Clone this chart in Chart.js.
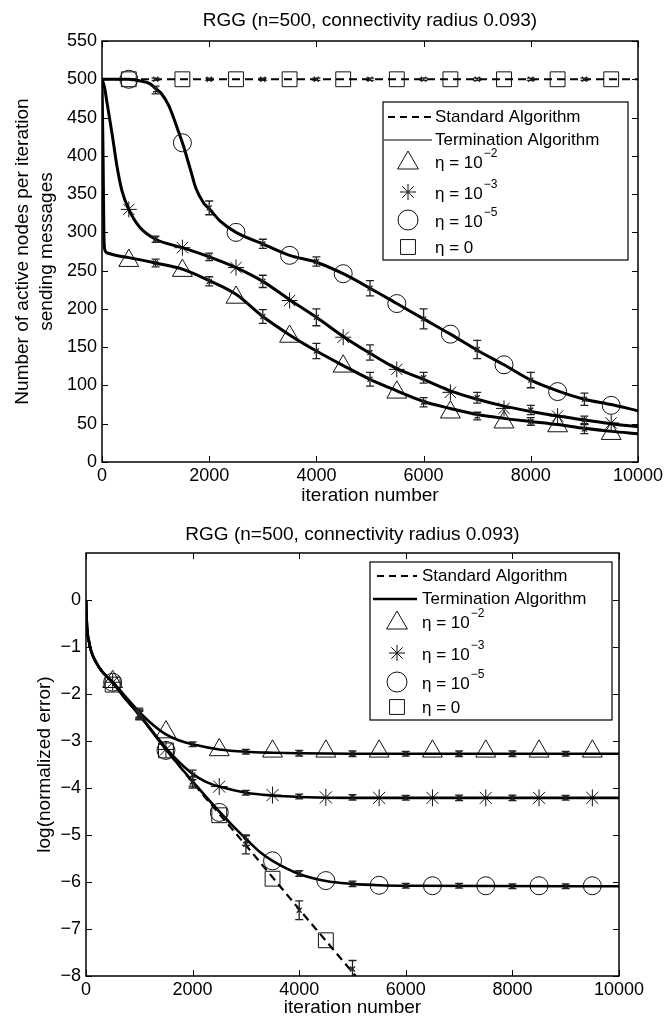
<!DOCTYPE html>
<html>
<head>
<meta charset="utf-8">
<script src="https://cdn.jsdelivr.net/npm/chart.js@4.4.1/dist/chart.umd.min.js"></script>
<style>
  html, body { margin: 0; padding: 0; background: #fff; }
  #wrap { position: relative; width: 667px; height: 1020px; }
  canvas { position: absolute; left: 0; }
</style>
</head>
<body>
<div id="wrap">
  <canvas id="active-chart" width="667" height="510" style="top:0"></canvas>
  <canvas id="error-chart" width="667" height="510" style="top:510px"></canvas>
</div>
<script>
// RGG (n=500, r=0.093) - active nodes and normalized error vs iteration

// shared axis data
const xTicks = [0, 2000, 4000, 6000, 8000, 10000];
const activeTicks = [0, 50, 100, 150, 200, 250, 300, 350, 400, 450, 500, 550];
const errorTicks = [-8, -7, -6, -5, -4, -3, -2, -1, 0];
const markerIters = [500, 1500, 2500, 3500, 4500, 5500, 6500, 7500, 8500, 9500];
const barIters = [1000, 2000, 3000, 4000, 5000, 6000, 7000, 8000, 9000];

const chartTitle = 'RGG (n=500, connectivity radius 0.093)';
const legendNames = ['Standard Algorithm', 'Termination Algorithm'];
const etaExponents = ['\u22122', '\u22123', '\u22125'];

// top chart: active nodes per iteration  [iteration, nodes]
const activeStd = [[0, 500], [10000, 500]];
const activeEta2 = [[0, 500], [20, 400], [35, 300], [50, 278], [100, 273], [250, 270], [500, 267],
  [1000, 260], [1500, 252], [2000, 237], [2500, 219], [3000, 190], [3500, 166], [4000, 145],
  [4500, 126], [5000, 108], [5500, 93], [6000, 79], [6500, 70], [7000, 62], [7500, 57],
  [8000, 53], [8500, 49], [9000, 44], [9500, 40], [10000, 37]];
const activeEta3 = [[0, 500], [45, 490], [90, 471], [190, 428], [280, 386], [370, 355], [500, 330],
  [700, 307], [1000, 291], [1500, 280], [2000, 268], [2500, 254], [3000, 236], [3500, 212],
  [4000, 189], [4500, 164], [5000, 142], [5500, 122], [6000, 108], [6500, 93], [7000, 82],
  [7500, 73], [8000, 66], [8500, 60], [9000, 55], [9500, 50], [10000, 46]];
const activeEta5 = [[0, 500], [500, 500], [700, 498], [900, 494], [1000, 488], [1100, 482],
  [1250, 465], [1400, 437], [1500, 417], [1650, 382], [1750, 358], [1900, 338], [2000, 331],
  [2200, 315], [2500, 300], [3000, 285], [3500, 270], [4000, 261], [4500, 246], [5000, 227],
  [5500, 207], [6000, 187], [6500, 167], [7000, 146], [7500, 127], [8000, 107], [8500, 93],
  [9000, 82], [9500, 75], [10000, 67]];

const activeTriMarks = [263, 250, 215, 164, 125, 91, 65, 52, 47, 37];
const activeStarMarks = [330, 280, 254, 211, 163, 121, 91, 70, 60, 51];
const activeCircleMarks = [500, 417, 300, 270, 246, 207, 167, 127, 92, 74];
const activeSquareMarks = [500, 500, 500, 500, 500, 500, 500, 500, 500, 500];

const activeStdBar = [500, 500, 500, 500, 500, 500, 500, 500, 500];
const activeStdErr = [1.5, 1.5, 1.5, 1.5, 1.5, 1.5, 1.5, 1.5, 1.5];
const activeEta2Bar = [260, 236, 190, 145, 108, 78, 60, 53, 43];
const activeEta2Err = [5, 6, 9, 10, 9, 6, 5, 5, 6];
const activeEta3Bar = [291, 268, 236, 189, 143, 110, 84, 68, 55];
const activeEta3Err = [4, 5, 8, 11, 10, 7, 7, 6, 5];
const activeEta5Bar = [486, 332, 285, 262, 227, 187, 147, 107, 82];
const activeEta5Err = [5, 9, 6, 6, 10, 13, 12, 10, 8];

// bottom chart: log(normalized error)  [iteration, value]
const errorStd = [[0, 0], [20, -0.6], [50, -0.85], [100, -1.1], [200, -1.35], [300, -1.52],
  [500, -1.76], [700, -2.05], [1000, -2.45], [1500, -3.18], [2000, -3.88], [2500, -4.55],
  [3000, -5.22], [3500, -5.9], [4000, -6.58], [4500, -7.25], [5000, -7.92], [5060, -8]];
const errorEta2 = [[0, 0], [20, -0.6], [50, -0.85], [100, -1.1], [200, -1.35], [300, -1.52],
  [500, -1.74], [700, -2.0], [1000, -2.38], [1200, -2.6], [1500, -2.86], [1750, -2.99],
  [2000, -3.07], [2500, -3.18], [3000, -3.23], [3500, -3.25], [4000, -3.26], [5000, -3.27],
  [10000, -3.27]];
const errorEta3 = [[0, 0], [20, -0.6], [50, -0.85], [100, -1.1], [200, -1.35], [300, -1.52],
  [500, -1.75], [700, -2.03], [1000, -2.44], [1500, -3.15], [1750, -3.45], [2000, -3.7],
  [2250, -3.87], [2500, -3.97], [3000, -4.1], [3500, -4.16], [4000, -4.19], [5000, -4.21],
  [10000, -4.21]];
const errorEta5 = [[0, 0], [20, -0.6], [50, -0.85], [100, -1.1], [200, -1.35], [300, -1.52],
  [500, -1.76], [700, -2.05], [1000, -2.45], [1500, -3.18], [2000, -3.86], [2500, -4.5],
  [2750, -4.8], [3000, -5.08], [3250, -5.35], [3500, -5.55], [4000, -5.83], [4500, -5.98],
  [5000, -6.04], [5500, -6.07], [6000, -6.08], [10000, -6.09]];

const errorTriMarks = [-1.74, -2.81, -3.19, -3.22, -3.22, -3.22, -3.22, -3.22, -3.22, -3.22];
const errorStarMarks = [-1.75, -3.18, -3.97, -4.15, -4.2, -4.21, -4.21, -4.21, -4.21, -4.21];
const errorCircleMarks = [-1.75, -3.2, -4.52, -5.55, -5.97, -6.07, -6.08, -6.08, -6.08, -6.08];
const errorSquareIters = [500, 1500, 2500, 3500, 4500];
const errorSquareMarks = [-1.8, -3.2, -4.58, -5.93, -7.24];

const errorStdIters = [1000, 2000, 3000, 4000, 5000];
const errorStdBar = [-2.45, -3.88, -5.2, -6.6, -7.85];
const errorStdErr = [0.08, 0.12, 0.2, 0.2, 0.18];
const errorEta2Bar = [-2.4, -3.07, -3.23, -3.26, -3.27, -3.27, -3.27, -3.27, -3.27];
const errorEta2Err = [0.1, 0.05, 0.05, 0.06, 0.06, 0.05, 0.06, 0.06, 0.05];
const errorEta3Bar = [-2.44, -3.72, -4.1, -4.18, -4.2, -4.21, -4.21, -4.21, -4.21];
const errorEta3Err = [0.1, 0.1, 0.05, 0.05, 0.06, 0.05, 0.06, 0.06, 0.05];
const errorEta5Bar = [-2.45, -3.86, -5.12, -5.82, -6.04, -6.08, -6.08, -6.09, -6.09];
const errorEta5Err = [0.1, 0.1, 0.1, 0.06, 0.06, 0.05, 0.05, 0.05, 0.05];

const FONT = '"Liberation Sans", Arial, Helvetica, sans-serif';

// helpers
const pts = (pairs) => pairs.map(([x, y]) => ({ x, y }));
const atIters = (xs, ys) => xs.map((x, i) => ({ x, y: ys[i] }));

function curve(pairs, width, dash) {
    return {
        data: pts(pairs),
        showLine: true,
        borderColor: '#000',
        borderWidth: width,
        borderDash: dash || [],
        pointRadius: 0,
        cubicInterpolationMode: 'monotone',
        clip: 0
    };
}

function marks(xs, ys, style, r) {
    return {
        data: atIters(xs, ys),
        showLine: false,
        pointStyle: style,
        pointRadius: r,
        pointHoverRadius: r,
        pointBorderColor: '#111',
        pointBackgroundColor: 'rgba(0,0,0,0)',
        pointBorderWidth: 1
    };
}

// vertical error bars with caps, drawn through the chart scales
function errorBarPlugin(groups) {
    return {
        id: 'errorBars',
        afterDatasetsDraw(chart) {
            const { ctx, chartArea: a, scales: { x, y } } = chart;
            ctx.save();
            ctx.beginPath();
            ctx.rect(a.left, a.top, a.right - a.left, a.bottom - a.top);
            ctx.clip();
            ctx.strokeStyle = '#222';
            ctx.lineWidth = 1.3;
            groups.forEach(g => {
                g.x.forEach((xv, i) => {
                    const px = x.getPixelForValue(xv);
                    const hi = y.getPixelForValue(g.y[i] + g.e[i]);
                    const lo = y.getPixelForValue(g.y[i] - g.e[i]);
                    const mid = y.getPixelForValue(g.y[i]);
                    ctx.beginPath();
                    ctx.moveTo(px, hi); ctx.lineTo(px, lo);
                    ctx.moveTo(px - 4, hi); ctx.lineTo(px + 4, hi);
                    ctx.moveTo(px - 4, lo); ctx.lineTo(px + 4, lo);
                    ctx.moveTo(px - 2.5, mid - 2.5); ctx.lineTo(px + 2.5, mid + 2.5);
                    ctx.moveTo(px - 2.5, mid + 2.5); ctx.lineTo(px + 2.5, mid - 2.5);
                    ctx.stroke();
                });
            });
            ctx.restore();
        }
    };
}

// matlab style box with inward ticks on all four sides
const framePlugin = {
    id: 'frame',
    afterDraw(chart) {
        const { ctx, chartArea: a, scales: { x, y } } = chart;
        ctx.save();
        ctx.strokeStyle = '#000';
        ctx.lineWidth = 1;
        ctx.beginPath();
        x.ticks.forEach(t => {
            const px = Math.round(x.getPixelForValue(t.value)) + 0.5;
            ctx.moveTo(px, a.bottom); ctx.lineTo(px, a.bottom - 6);
            ctx.moveTo(px, a.top); ctx.lineTo(px, a.top + 6);
        });
        y.ticks.forEach(t => {
            const py = Math.round(y.getPixelForValue(t.value)) + 0.5;
            ctx.moveTo(a.left, py); ctx.lineTo(a.left + 6, py);
            ctx.moveTo(a.right, py); ctx.lineTo(a.right - 6, py);
        });
        ctx.stroke();
        ctx.lineWidth = 1.5;
        ctx.strokeRect(a.left, a.top, a.right - a.left, a.bottom - a.top);
        ctx.restore();
    }
};

function drawMarker(ctx, style, x, y, r) {
    ctx.beginPath();
    if (style === 'triangle') {
        ctx.moveTo(x, y - r);
        ctx.lineTo(x + r * 0.866, y + r / 2);
        ctx.lineTo(x - r * 0.866, y + r / 2);
        ctx.closePath();
    } else if (style === 'circle') {
        ctx.arc(x, y, r, 0, Math.PI * 2);
    } else if (style === 'rect') {
        const s = r * Math.SQRT1_2;
        ctx.rect(x - s, y - s, 2 * s, 2 * s);
    } else if (style === 'star') {
        for (let k = 0; k < 4; k++) {
            const ang = k * Math.PI / 4;
            ctx.moveTo(x - Math.cos(ang) * r, y - Math.sin(ang) * r);
            ctx.lineTo(x + Math.cos(ang) * r, y + Math.sin(ang) * r);
        }
    }
    ctx.stroke();
}

// in-axes legend box, like the matlab one
function legendPlugin(spec) {
    return {
        id: 'boxLegend',
        afterDraw(chart) {
            const ctx = chart.ctx;
            const [bx, by, bw, bh] = spec.box;
            const r = spec.rows;
            ctx.save();
            ctx.fillStyle = '#fff';
            ctx.fillRect(bx, by, bw, bh);
            ctx.strokeStyle = '#000';
            ctx.lineWidth = 1.2;
            ctx.strokeRect(bx, by, bw, bh);

            // line samples
            ctx.lineWidth = 2;
            ctx.setLineDash([7, 5]);
            ctx.beginPath();
            ctx.moveTo(spec.lineX[0], r[0]); ctx.lineTo(spec.lineX[1], r[0]);
            ctx.stroke();
            ctx.setLineDash([]);
            ctx.lineWidth = spec.termWidth;
            ctx.beginPath();
            ctx.moveTo(spec.lineX[0] - 4, r[1]); ctx.lineTo(spec.lineX[1], r[1]);
            ctx.stroke();

            // markers
            ctx.lineWidth = 1;
            ctx.strokeStyle = '#111';
            drawMarker(ctx, 'triangle', spec.markX, r[2] + 2, 12);
            drawMarker(ctx, 'star', spec.markX, r[3], 8);
            drawMarker(ctx, 'circle', spec.markX, r[4], 10);
            drawMarker(ctx, 'rect', spec.markX, r[5], 10.5);

            // texts
            ctx.fillStyle = '#000';
            ctx.textBaseline = 'middle';
            ctx.font = `17px ${FONT}`;
            ctx.fillText(legendNames[0], spec.textX, r[0]);
            ctx.fillText(legendNames[1], spec.textX, r[1]);
            etaExponents.forEach((ex, i) => {
                const yy = r[2 + i] + 2;
                ctx.font = `17px ${FONT}`;
                const base = '\u03b7 = 10';
                ctx.fillText(base, spec.textX, yy);
                const w = ctx.measureText(base).width;
                ctx.font = `12px ${FONT}`;
                ctx.fillText(ex, spec.textX + w + 1, yy - 9);
            });
            ctx.font = `17px ${FONT}`;
            ctx.fillText('\u03b7 = 0', spec.textX, r[5] + 1);
            ctx.restore();
        }
    };
}

function xAxis(height, titlePad) {
    return {
        type: 'linear',
        min: 0,
        max: 10000,
        afterBuildTicks: (s) => { s.ticks = xTicks.map(v => ({ value: v })); },
        afterFit: (s) => { s.height = height; },
        grid: { display: false, drawTicks: false },
        border: { display: false },
        ticks: {
            color: '#000',
            font: { size: 18, family: FONT },
            padding: 3,
            maxRotation: 0,
            autoSkip: false,
            callback: (v) => String(v)
        },
        title: {
            display: true,
            text: 'iteration number',
            color: '#000',
            font: { size: 19, family: FONT, lineHeight: 1.26 },
            padding: { top: 0, bottom: titlePad }
        }
    };
}

function yAxis(min, max, tickVals, width, titleText, titlePad) {
    return {
        type: 'linear',
        min: min,
        max: max,
        afterBuildTicks: (s) => { s.ticks = tickVals.map(v => ({ value: v })); },
        afterFit: (s) => { s.width = width; },
        grid: { display: false, drawTicks: false },
        border: { display: false },
        ticks: {
            color: '#000',
            font: { size: 18, family: FONT },
            padding: 5,
            autoSkip: false,
            callback: (v) => String(v).replace('-', '\u2212')
        },
        title: {
            display: true,
            text: titleText,
            color: '#000',
            font: { size: 19, family: FONT, lineHeight: 1.26 },
            padding: { top: titlePad, bottom: 0 }
        }
    };
}

function titleOpts(padTop, padBottom) {
    return {
        display: true,
        fullSize: false,
        text: chartTitle,
        color: '#000',
        font: { size: 19, family: FONT, weight: 'normal', lineHeight: 1.2 },
        padding: { top: padTop, bottom: padBottom }
    };
}

document.addEventListener('DOMContentLoaded', () => {
    if (typeof Chart === 'undefined') {
        console.error('Chart.js not loaded');
        return;
    }
    createActiveChart();
    createErrorChart();
});

// Chart 1: active nodes per iteration sending messages
function createActiveChart() {
    const ctx = document.getElementById('active-chart');
    new Chart(ctx, {
        type: 'scatter',
        data: {
            datasets: [
                curve(activeStd, 2, [8, 5]),
                curve(activeEta2, 3),
                curve(activeEta3, 3),
                curve(activeEta5, 3),
                marks(markerIters, activeSquareMarks, 'rect', 10.5),
                marks(markerIters, activeTriMarks, 'triangle', 11.5),
                marks(markerIters, activeStarMarks, 'star', 8),
                marks(markerIters, activeCircleMarks, 'circle', 9)
            ]
        },
        options: {
            responsive: false,
            animation: false,
            layout: { padding: { left: 0, right: 29, top: 0, bottom: 0 } },
            plugins: {
                legend: { display: false },
                tooltip: { enabled: false },
                title: titleOpts(9.6, 8.6)
            },
            scales: {
                x: xAxis(48, 2),
                y: yAxis(0, 550, activeTicks, 102,
                    ['Number of active nodes per iteration', 'sending messages'], 11)
            }
        },
        plugins: [
            errorBarPlugin([
                { x: barIters, y: activeStdBar, e: activeStdErr },
                { x: barIters, y: activeEta2Bar, e: activeEta2Err },
                { x: barIters, y: activeEta3Bar, e: activeEta3Err },
                { x: barIters, y: activeEta5Bar, e: activeEta5Err }
            ]),
            framePlugin,
            legendPlugin({
                box: [383, 102, 245, 158],
                rows: [117, 140, 161, 192, 220, 247],
                lineX: [388, 432],
                markX: 408,
                textX: 435,
                termWidth: 1
            })
        ]
    });
}

// Chart 2: log of normalized error
function createErrorChart() {
    const ctx = document.getElementById('error-chart');
    new Chart(ctx, {
        type: 'scatter',
        data: {
            datasets: [
                curve(errorStd, 2.2, [8, 5]),
                curve(errorEta2, 2.6),
                curve(errorEta3, 2.6),
                curve(errorEta5, 2.6),
                marks(errorSquareIters, errorSquareMarks, 'rect', 10.5),
                marks(markerIters, errorTriMarks, 'triangle', 11.5),
                marks(markerIters, errorStarMarks, 'star', 8.5),
                marks(markerIters, errorCircleMarks, 'circle', 9)
            ]
        },
        options: {
            responsive: false,
            animation: false,
            layout: { padding: { left: 0, right: 48, top: 0, bottom: 0 } },
            plugins: {
                legend: { display: false },
                tooltip: { enabled: false },
                title: titleOpts(13.6, 6.6)
            },
            scales: {
                x: xAxis(44, 0),
                y: yAxis(-8, 1, errorTicks, 86, 'log(normalized error)', 33)
            }
        },
        plugins: [
            errorBarPlugin([
                { x: errorStdIters, y: errorStdBar, e: errorStdErr },
                { x: barIters, y: errorEta2Bar, e: errorEta2Err },
                { x: barIters, y: errorEta3Bar, e: errorEta3Err },
                { x: barIters, y: errorEta5Bar, e: errorEta5Err }
            ]),
            framePlugin,
            legendPlugin({
                box: [370, 52, 242, 158],
                rows: [66, 89, 111, 143, 172, 197],
                lineX: [377, 417],
                markX: 397,
                textX: 422,
                termWidth: 2.6
            })
        ]
    });
}
</script>
</body>
</html>
